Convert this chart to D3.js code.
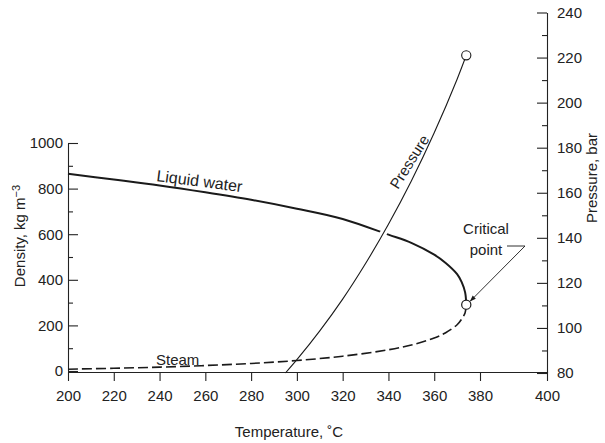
<!DOCTYPE html>
<html>
<head>
<meta charset="utf-8">
<script src="https://cdn.jsdelivr.net/npm/d3@7"></script>
<style>
  html, body { margin: 0; padding: 0; background: #fff; }
  svg { display: block; }
  text { font-family: "Liberation Sans", Arial, Helvetica, sans-serif; fill: #222; }
  .axis path, .axis line { stroke: #222; stroke-width: 1.1; }
  .axis text { font-size: 15px; fill: #222; }
</style>
</head>
<body>
<svg id="chart" width="605" height="443"></svg>
<script>
// Saturated water: liquid and vapour densities, vapour pressure
const liquidTemp    = [200, 220, 240, 260, 280, 300, 320, 340, 350, 360, 365, 370, 372, 373.5, 374];
const liquidDensity = [865, 840, 814, 784, 751, 712, 667, 598, 562, 510, 474, 425, 390, 345, 291];

const steamTemp    = [200, 220, 240, 260, 280, 300, 320, 340, 350, 360, 365, 370, 372, 373.5, 374];
const steamDensity = [8, 12, 17, 24, 33, 46, 65, 93, 114, 145, 168, 203, 228, 256, 291];

const pressureTemp = [295, 300, 310, 320, 330, 340, 350, 360, 370, 374];
const pressureBar  = [80, 85.9, 98.7, 112.8, 128.6, 146.0, 165.2, 186.6, 210.4, 221];

// Critical point: temperature (°C), density (kg m^-3), pressure (bar)
const criticalPoint = [374, 291, 221];

const tempTicks = [200, 220, 240, 260, 280, 300, 320, 340, 360, 380, 400];
const densityTicks = [0, 200, 400, 600, 800, 1000];
const densityMinor = [100, 300, 500, 700, 900];
const pressureTicks = [80, 100, 120, 140, 160, 180, 200, 220, 240];
const pressureMinor = [90, 110, 130, 150, 170, 190, 210, 230];

const svg = d3.select("#chart");
const fmt = d3.format("d");

const x = d3.scaleLinear().domain([200, 380, 400]).range([68, 480, 547]);
const yD = d3.scaleLinear().domain([0, 1000]).range([371, 143]);
const yP = d3.scaleLinear().domain([80, 240]).range([373, 12.5]);
const baseY = 372;

// Axes
const xAxis = svg.append("g").attr("class", "axis")
  .attr("transform", `translate(0,${baseY})`)
  .call(d3.axisBottom(x).tickValues(tempTicks).tickSize(9).tickSizeOuter(0).tickPadding(6).tickFormat(fmt));
xAxis.selectAll("text").attr("dy", "0.9em");

svg.append("g").attr("class", "axis")
  .attr("transform", "translate(68,0)")
  .call(d3.axisLeft(yD).tickValues(densityTicks).tickSize(-10).tickSizeOuter(0).tickPadding(5).tickFormat(fmt));
svg.append("g").attr("class", "axis minor")
  .attr("transform", "translate(68,0)")
  .call(d3.axisLeft(yD).tickValues(densityMinor).tickSize(-5).tickSizeOuter(0).tickFormat(""))
  .select(".domain").remove();

svg.append("g").attr("class", "axis")
  .attr("transform", "translate(547,0)")
  .call(d3.axisRight(yP).tickValues(pressureTicks).tickSize(-10).tickSizeOuter(0).tickPadding(10).tickFormat(fmt));
svg.append("g").attr("class", "axis minor")
  .attr("transform", "translate(547,0)")
  .call(d3.axisRight(yP).tickValues(pressureMinor).tickSize(-5).tickSizeOuter(0).tickFormat(""))
  .select(".domain").remove();

// Axis titles
svg.append("text")
  .attr("x", 289).attr("y", 437)
  .attr("text-anchor", "middle").style("font-size", "15px")
  .text("Temperature, ˚C");

const dLabel = svg.append("text")
  .attr("transform", "translate(25,236) rotate(-90)")
  .attr("text-anchor", "middle").style("font-size", "15px");
dLabel.append("tspan").text("Density, kg m");
dLabel.append("tspan").attr("dy", "-0.45em").style("font-size", "11px").text("−3");

svg.append("text")
  .attr("transform", "translate(597,178) rotate(-90)")
  .attr("text-anchor", "middle").style("font-size", "15px")
  .text("Pressure, bar");

// Curves
const densityLine = d3.line()
  .x(d => x(d[0])).y(d => yD(d[1]))
  .curve(d3.curveCatmullRom.alpha(0.5));
const pressureLine = d3.line()
  .x(d => x(d[0])).y(d => yP(d[1]))
  .curve(d3.curveCatmullRom.alpha(0.5));

const liquidData = liquidTemp.map((t, i) => [t, liquidDensity[i]]);
const steamData = steamTemp.map((t, i) => [t, steamDensity[i]]);
const pressureData = pressureTemp.map((t, i) => [t, pressureBar[i]]);

svg.append("path").datum(liquidData)
  .attr("d", densityLine)
  .attr("fill", "none").attr("stroke", "#1a1a1a").attr("stroke-width", 2);

svg.append("path").datum(steamData)
  .attr("d", densityLine)
  .attr("fill", "none").attr("stroke", "#1a1a1a").attr("stroke-width", 1.6)
  .attr("stroke-dasharray", "10,4");

// Pressure line breaks the liquid line where they cross
svg.append("clipPath").attr("id", "crossClip")
  .append("rect")
  .attr("x", 0).attr("y", yD(700))
  .attr("width", 605).attr("height", yD(500) - yD(700));
svg.append("path").datum(pressureData)
  .attr("d", pressureLine)
  .attr("clip-path", "url(#crossClip)")
  .attr("fill", "none").attr("stroke", "#fff").attr("stroke-width", 7);

svg.append("path").datum(pressureData)
  .attr("d", pressureLine)
  .attr("fill", "none").attr("stroke", "#1a1a1a").attr("stroke-width", 1.1);

// Critical point markers
svg.append("circle")
  .attr("cx", x(criticalPoint[0])).attr("cy", yD(criticalPoint[1])).attr("r", 4.6)
  .attr("fill", "#fff").attr("stroke", "#1a1a1a").attr("stroke-width", 1.2);
svg.append("circle")
  .attr("cx", x(criticalPoint[0])).attr("cy", yP(criticalPoint[2])).attr("r", 4.6)
  .attr("fill", "#fff").attr("stroke", "#1a1a1a").attr("stroke-width", 1.1);

// Curve labels
svg.append("text")
  .attr("transform", "translate(156,181) rotate(7.4)")
  .style("font-size", "16px")
  .text("Liquid water");

svg.append("text")
  .attr("x", 156).attr("y", 365)
  .style("font-size", "15px")
  .text("Steam");

svg.append("text")
  .attr("transform", "translate(398,190) rotate(-58)")
  .style("font-size", "15px")
  .text("Pressure");

// Critical point annotation
svg.append("text")
  .attr("x", 486).attr("y", 234)
  .attr("text-anchor", "middle").style("font-size", "15px")
  .text("Critical");
svg.append("text")
  .attr("x", 486).attr("y", 255)
  .attr("text-anchor", "middle").style("font-size", "15px")
  .text("point");

svg.append("defs").append("marker")
  .attr("id", "arrow").attr("viewBox", "0 0 10 10")
  .attr("refX", 9).attr("refY", 5)
  .attr("markerWidth", 7).attr("markerHeight", 7)
  .attr("orient", "auto")
  .append("path").attr("d", "M0,1.5 L10,5 L0,8.5 Z").attr("fill", "#1a1a1a");

const cx = x(criticalPoint[0]), cy = yD(criticalPoint[1]);
svg.append("path")
  .attr("d", `M507,246 L525,246 L${cx + 4},${cy - 3.5}`)
  .attr("fill", "none").attr("stroke", "#1a1a1a").attr("stroke-width", 0.9)
  .attr("marker-end", "url(#arrow)");
</script>
</body>
</html>
